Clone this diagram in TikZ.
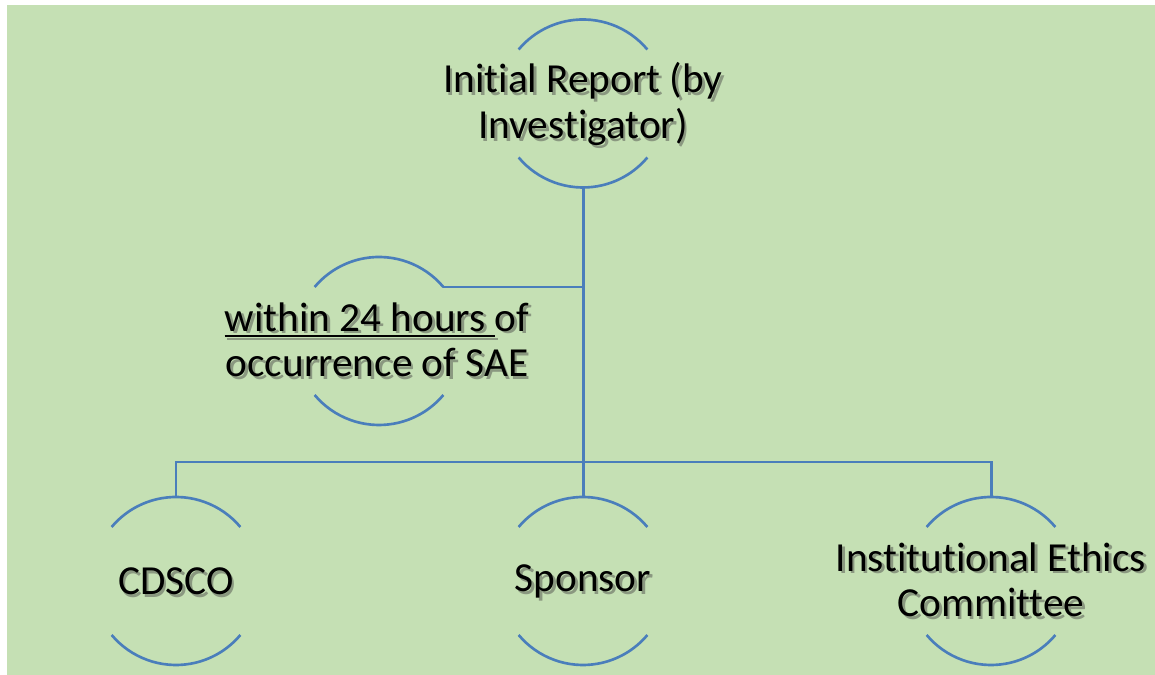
\documentclass[tikz,border=0pt]{standalone}
\usepackage{fontspec}
\setmainfont{Carlito}[Ligatures=NoCommon]
\usepackage{tikz}
\usetikzlibrary{calc}

\definecolor{bggreen}{RGB}{197,224,180}
\definecolor{linkblue}{RGB}{74,126,187}
\definecolor{shadowgray}{RGB}{138,152,128}

% text with a soft drop shadow
\newcommand{\shd}[1]{\makebox[0pt][l]{\hspace{1.5pt}\raisebox{-1.5pt}{\textcolor{shadowgray}{#1}}}#1}
\newcommand{\ulinetext}[1]{\setbox0\hbox{#1}\rlap{\rule[-3.4pt]{\wd0}{1.2pt}}\box0}

\begin{document}
\begin{tikzpicture}[x=0.02cm, y=0.02cm,
  ring/.style={linkblue, line width=1.5pt},
  link/.style={linkblue, line width=1.7pt},
  txt/.style={align=center, inner sep=0pt, font=\fontsize{23.5}{26}\selectfont}]
\useasboundingbox (0,0) rectangle (1155,675);
\fill[bggreen] (7,0) rectangle (1155,670);

% circle centres
\coordinate (top) at (583,571.5);
\coordinate (mid) at (379,334);
\coordinate (cdsco) at (176,94);
\coordinate (sponsor) at (583,94);
\coordinate (iec) at (991,94);

\foreach \c in {top,mid,cdsco,sponsor,iec}{
  \draw[ring] ($(\c)+(40:84)$) arc[start angle=40, end angle=140, radius=84];
  \draw[ring] ($(\c)+(220:84)$) arc[start angle=220, end angle=320, radius=84];
}

% connectors
\coordinate (topS) at ($(top)+(0,-84)$);
\coordinate (sponsorN) at ($(sponsor)+(0,84)$);
\coordinate (cdscoN) at ($(cdsco)+(0,84)$);
\coordinate (iecN) at ($(iec)+(0,84)$);
\coordinate (midjoin) at ($(mid)+(40:84)$);
\coordinate (bus) at (583,213);
\draw[link] (topS) -- (sponsorN);
\draw[link] (midjoin) -- (midjoin -| topS);
\draw[link] (cdscoN) |- (bus) -| (iecN);

% texts
\node[txt] (topText) at ($(top)+(0,-2)$) {\shd{Initial Report (by}\\\shd{Investigator)}};
\node[txt] (midText) at ($(mid)+(-2,0)$) {\shd{\ulinetext{within 24 hours\ }of}\\\shd{occurrence of SAE}};
\node[txt] (cdscoText) at ($(cdsco)+(0,-2)$) {\shd{CDSCO}};
\node[txt] (sponsorText) at ($(sponsor)+(0,-2)$) {\shd{Sponsor}};
\node[txt] (iecText) at (iec) {\shd{Institutional Ethics}\\\shd{Committee}};
\end{tikzpicture}
\end{document}
